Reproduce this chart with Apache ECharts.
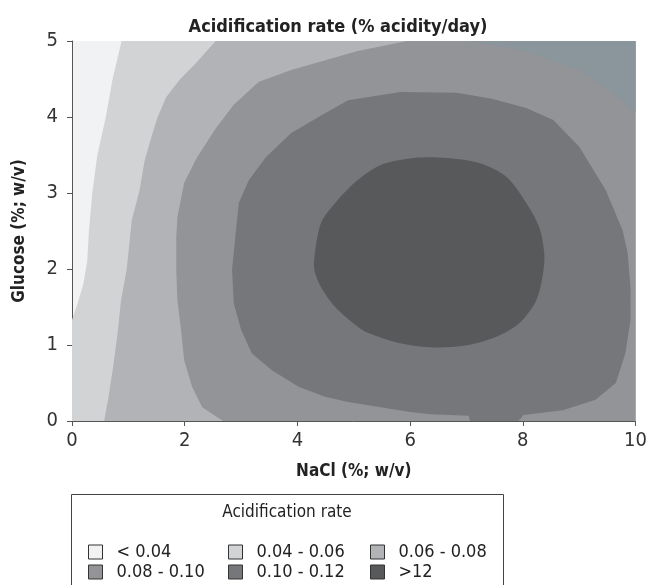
<!DOCTYPE html>
<html>
<head>
<meta charset="utf-8">
<script src="https://cdn.jsdelivr.net/npm/echarts@6/dist/echarts.min.js"></script>
<style>
  html, body { margin: 0; padding: 0; background: #fff; }
  #main { width: 650px; height: 585px; }
</style>
</head>
<body>
<div id="main"></div>
<script>
"use strict";
// x = NaCl (%), y = Glucose (%)
var xTicks = [0, 2, 4, 6, 8, 10];
var yTicks = [0, 1, 2, 3, 4, 5];
var levelLabels = ["< 0.04", "0.04 - 0.06", "0.06 - 0.08", "0.08 - 0.10", "0.10 - 0.12", ">12"];

// contour lines, [NaCl, Glucose]
var edge004 = [[0, 1.33], [0.1, 1.55], [0.2, 1.8], [0.27, 2.1], [0.3, 2.5], [0.36, 3.0],
  [0.45, 3.5], [0.6, 4.0], [0.72, 4.5], [0.88, 5]];
var edge006 = [[0.57, 0], [0.64, 0.28], [0.73, 0.71], [0.81, 1.16], [0.87, 1.59], [0.97, 1.99],
  [1.06, 2.64], [1.2, 3.04], [1.29, 3.43], [1.41, 3.74], [1.52, 4.0], [1.67, 4.26],
  [1.91, 4.49], [2.2, 4.71], [2.55, 5]];
var edge008 = [[2.68, 0], [2.31, 0.18], [2.13, 0.45], [1.99, 0.8], [1.94, 1.16], [1.87, 1.59],
  [1.85, 1.99], [1.85, 2.42], [1.87, 2.68], [1.99, 3.13], [2.22, 3.47], [2.55, 3.85],
  [2.87, 4.16], [3.31, 4.46], [3.89, 4.62], [5.07, 4.87], [5.95, 5]];
var cornerPatch = [[7.01, 5], [7.94, 4.88], [8.99, 4.62], [9.52, 4.36], [10, 4.05], [10, 5]];
var edge010 = [[7.06, 0], [7.04, 0.07], [6.36, 0.09], [6.0, 0.12], [5.48, 0.18], [4.9, 0.25],
  [4.49, 0.32], [4.02, 0.45], [3.54, 0.67], [3.19, 0.89], [3.0, 1.2], [2.87, 1.55],
  [2.84, 1.99], [2.91, 2.51], [2.96, 2.87], [3.14, 3.17], [3.44, 3.47], [3.89, 3.79],
  [4.49, 4.05], [4.9, 4.22], [5.83, 4.33], [6.83, 4.32], [7.45, 4.24], [8.06, 4.12],
  [8.54, 3.96], [9.0, 3.61], [9.47, 3.04], [9.77, 2.51], [9.86, 2.21], [9.91, 1.76],
  [9.91, 1.33], [9.82, 0.89], [9.65, 0.5], [9.29, 0.28], [8.71, 0.14], [8.01, 0.08], [7.92, 0]];
var edge012 = [[5.07, 3.17], [4.67, 2.87], [4.42, 2.61], [4.31, 2.21], [4.3, 1.99], [4.42, 1.76],
  [4.67, 1.5], [5.07, 1.24], [5.25, 1.16], [5.78, 1.03], [6.36, 0.97], [6.95, 0.99],
  [7.53, 1.11], [7.94, 1.29], [8.24, 1.59], [8.36, 1.95], [8.38, 2.21], [8.29, 2.55],
  [8.06, 2.87], [7.71, 3.21], [7.24, 3.39], [6.65, 3.46], [6.07, 3.46], [5.48, 3.37]];

var xMax = 10, yMax = 5;
var levelColors = ["#f1f2f4", "#d2d3d5", "#b2b3b6", "#939497", "#76777b", "#58595b"];
var cornerColor = "#8b959c";
var font = "'Liberation Sans Narrow', 'DejaVu Sans Condensed', sans-serif";

// region above a line that runs from the bottom/left edge to the top edge
function openRegion(edge) {
  var pts = edge[0][0] === 0 && edge[0][1] > 0 ? [[0, 0]] : [];
  return pts.concat(edge, [[xMax, yMax], [xMax, 0]]);
}

var shapes = [
  { pts: openRegion(edge004), color: levelColors[1], smooth: 0 },
  { pts: openRegion(edge006), color: levelColors[2], smooth: 0 },
  { pts: openRegion(edge008), color: levelColors[3], smooth: 0 },
  { pts: cornerPatch, color: cornerColor, smooth: 0 },
  { pts: edge010, color: levelColors[4], smooth: 0 },
  { pts: edge012, color: levelColors[5], smooth: 0.3 }
];

var chart = echarts.init(document.getElementById("main"));

// legend built as graphic elements
var legendEls = [
  { type: "rect", shape: { x: 71.5, y: 494.5, width: 432, height: 100 },
    style: { fill: "#fff", stroke: "#444", lineWidth: 1 } },
  { type: "text", x: 287, y: 513, style: { text: "Acidification rate", font: "17px " + font,
    fill: "#222", align: "center", verticalAlign: "middle" } }
];
var colX = [88.5, 228.5, 370.5];
var rowY = [552, 572];
levelLabels.forEach(function (lab, i) {
  var cx = colX[i % 3], cy = rowY[Math.floor(i / 3)];
  legendEls.push({ type: "rect", shape: { x: cx, y: cy - 7, width: 14, height: 14 },
    style: { fill: levelColors[i], stroke: "#333", lineWidth: 1 } });
  legendEls.push({ type: "text", x: cx + 28, y: cy, style: { text: lab, font: "18px " + font,
    fill: "#222", verticalAlign: "middle" } });
});

var option = {
  animation: false,
  title: {
    text: "Acidification rate (% acidity/day)",
    left: 333, top: 13, textAlign: "center",
    textStyle: { fontFamily: font, fontSize: 18, fontWeight: "bold", color: "#222" }
  },
  grid: { left: 72, right: 10, top: 41, bottom: 164, show: true,
    backgroundColor: levelColors[0], borderWidth: 0 },
  xAxis: {
    type: "value", min: 0, max: xMax, interval: 2,
    name: "NaCl (%; w/v)", nameLocation: "middle", nameGap: 42,
    nameTextStyle: { fontFamily: font, fontSize: 17, fontWeight: "bold", color: "#222" },
    axisLine: { lineStyle: { color: "#555" } },
    axisTick: { length: 5, lineStyle: { color: "#555" } },
    axisLabel: { fontFamily: font, fontSize: 20, color: "#333", margin: 10 },
    splitLine: { show: false }
  },
  yAxis: {
    type: "value", min: 0, max: yMax, interval: 1,
    name: "Glucose (%; w/v)", nameLocation: "middle", nameGap: 44,
    nameTextStyle: { fontFamily: font, fontSize: 17, fontWeight: "bold", color: "#222" },
    axisLine: { show: true, lineStyle: { color: "#555" } },
    axisTick: { show: true, length: 5, lineStyle: { color: "#555" } },
    axisLabel: { fontFamily: font, fontSize: 20, color: "#333", margin: 14 },
    splitLine: { show: false }
  },
  series: [{
    type: "custom",
    silent: true,
    clip: true,
    z: 1,
    data: shapes.map(function (s, i) { return [s.pts[0][0], s.pts[0][1], i]; }),
    renderItem: function (params, api) {
      var s = shapes[api.value(2)];
      return {
        type: "polygon",
        shape: { points: s.pts.map(function (p) { return api.coord(p); }), smooth: s.smooth },
        style: { fill: s.color, stroke: null }
      };
    }
  }],
  graphic: legendEls
};

chart.setOption(option);
</script>
</body>
</html>
